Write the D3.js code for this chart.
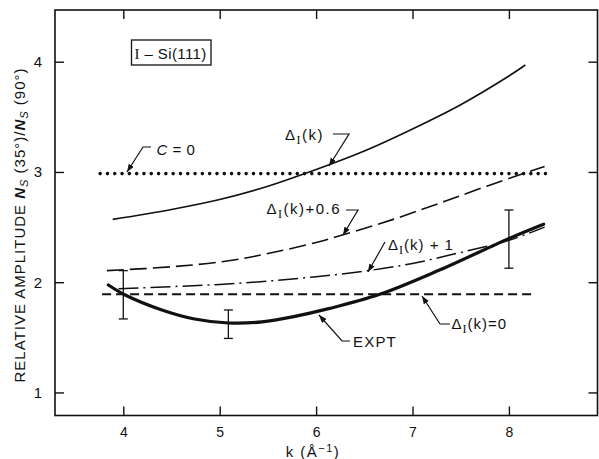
<!DOCTYPE html>
<html>
<head>
<meta charset="utf-8">
<script src="https://cdn.jsdelivr.net/npm/d3@7"></script>
<style>
  html, body { margin: 0; padding: 0; background: #fff; }
  svg { display: block; }
  text { font-family: "Liberation Sans", Arial, sans-serif; fill: #111; }
</style>
</head>
<body>
<svg id="chart" width="599" height="459"></svg>
<script>
// k in inverse angstroms, amplitude ratio Ns(35°)/Ns(90°)
const kTicks = [4, 5, 6, 7, 8];
const ampTicks = [1, 2, 3, 4];

// theory curve Δ_I(k)
const deltaK = [3.89, 4.5, 5.0, 5.5, 5.9, 6.5, 7.0, 7.5, 8.0, 8.17];
const deltaV = [2.57, 2.66, 2.75, 2.87, 2.99, 3.19, 3.39, 3.61, 3.87, 3.97];

// Δ_I(k)+0.6
const plus06K = [3.83, 4.5, 5.06, 5.5, 6.0, 6.28, 6.8, 7.29, 7.8, 8.37];
const plus06V = [2.105, 2.14, 2.19, 2.26, 2.36, 2.43, 2.57, 2.72, 2.88, 3.05];

// Δ_I(k)+1
const plus1K = [3.95, 4.5, 5.0, 5.5, 6.0, 6.5, 7.0, 7.5, 8.0, 8.37];
const plus1V = [1.94, 1.96, 1.98, 2.01, 2.05, 2.10, 2.17, 2.27, 2.38, 2.50];

// Δ_I(k)=0 (flat)
const zeroK = [3.78, 8.27];
const zeroV = [1.89, 1.89];

// c = 0 (flat, dotted)
const cZeroK = [3.76, 8.43];
const cZeroV = [2.985, 2.985];

// experiment
const exptK = [3.845, 4.02, 4.40, 4.74, 5.09, 5.44, 5.78, 6.13, 6.66, 7.28, 8.01, 8.36];
const exptV = [1.975, 1.884, 1.748, 1.666, 1.630, 1.640, 1.690, 1.760, 1.89, 2.11, 2.40, 2.526];

// error bars on the experiment
const errK = [4.0, 5.09, 8.0];
const errLow = [1.667, 1.49, 2.127];
const errHigh = [2.105, 1.748, 2.655];

const svg = d3.select("#chart");
const frameL = 55, frameR = 597.5, frameT = 10, frameB = 415.5;

const x = d3.scaleLinear().domain([3.2915, 8.919]).range([frameL, frameR]);
const y = d3.scaleLinear().domain([0.791, 4.469]).range([frameB, frameT]);

// arrowhead for leader lines
svg.append("defs").append("marker")
  .attr("id", "arrow")
  .attr("markerUnits", "userSpaceOnUse")
  .attr("markerWidth", 9).attr("markerHeight", 7)
  .attr("refX", 8).attr("refY", 3)
  .attr("orient", "auto")
  .append("path").attr("d", "M0,0 L8,3 L0,6 Z").attr("fill", "#111");

// frame with inward ticks on all sides
const tickLen = 9;
svg.append("g").attr("transform", `translate(0,${frameB})`)
  .call(d3.axisBottom(x).tickValues(kTicks).tickSizeInner(-tickLen).tickSizeOuter(0).tickPadding(12).tickFormat(d3.format("d")))
  .call(g => g.select(".domain").remove())
  .call(g => g.selectAll(".tick text").attr("font-size", 14));
svg.append("g").attr("transform", `translate(0,${frameT})`)
  .call(d3.axisTop(x).tickValues(kTicks).tickSizeInner(-tickLen).tickSizeOuter(0).tickFormat(""))
  .call(g => g.select(".domain").remove());
svg.append("g").attr("transform", `translate(${frameL},0)`)
  .call(d3.axisLeft(y).tickValues(ampTicks).tickSizeInner(-tickLen).tickSizeOuter(0).tickPadding(13).tickFormat(d3.format("d")))
  .call(g => g.select(".domain").remove())
  .call(g => g.selectAll(".tick text").attr("font-size", 15));
svg.append("g").attr("transform", `translate(${frameR},0)`)
  .call(d3.axisRight(y).tickValues(ampTicks).tickSizeInner(-tickLen).tickSizeOuter(0).tickFormat(""))
  .call(g => g.select(".domain").remove());

svg.selectAll(".tick line").attr("stroke", "#111").attr("stroke-width", 1.4);
svg.selectAll(".tick text").attr("fill", "#111")
  .attr("font-family", "Liberation Sans, Arial, sans-serif");

svg.append("rect")
  .attr("x", frameL).attr("y", frameT)
  .attr("width", frameR - frameL).attr("height", frameB - frameT)
  .attr("fill", "none").attr("stroke", "#111").attr("stroke-width", 1.6);

// curves
const line = d3.line().x(d => x(d[0])).y(d => y(d[1])).curve(d3.curveCatmullRom.alpha(0.5));
const zip = (a, b) => a.map((v, i) => [v, b[i]]);

function drawCurve(ks, vs, width, dash, cap) {
  svg.append("path")
    .datum(zip(ks, vs))
    .attr("d", line)
    .attr("fill", "none")
    .attr("stroke", "#111")
    .attr("stroke-width", width)
    .attr("stroke-dasharray", dash)
    .attr("stroke-linecap", cap || "butt");
}

drawCurve(cZeroK, cZeroV, 3.6, "0,7.3", "round");
drawCurve(deltaK, deltaV, 1.6, null);
drawCurve(plus06K, plus06V, 1.6, "17,6");
drawCurve(plus1K, plus1V, 1.5, "20,5,2,5");
drawCurve(zeroK, zeroV, 2, "9,5");
drawCurve(exptK, exptV, 3.2, null, "round");

// error bars
const capW = 4.5;
errK.forEach((k, i) => {
  const cx = x(k), y0 = y(errLow[i]), y1 = y(errHigh[i]);
  const g = svg.append("g").attr("stroke", "#111").attr("stroke-width", 1.3);
  g.append("line").attr("x1", cx).attr("x2", cx).attr("y1", y0).attr("y2", y1);
  g.append("line").attr("x1", cx - capW).attr("x2", cx + capW).attr("y1", y0).attr("y2", y0);
  g.append("line").attr("x1", cx - capW).attr("x2", cx + capW).attr("y1", y1).attr("y2", y1);
});

// leader lines from labels to curves
function leader(pts) {
  svg.append("path")
    .attr("d", d3.line()(pts))
    .attr("fill", "none").attr("stroke", "#111").attr("stroke-width", 1.2)
    .attr("marker-end", "url(#arrow)");
}
leader([[151, 147], [143, 147], [127, 172]]);
leader([[333, 134], [349, 134], [329, 166]]);
leader([[346, 210], [358, 210], [343, 235]]);
leader([[385, 242], [368, 272]]);
leader([[450, 324], [440, 324], [422, 296]]);
leader([[350, 341], [342, 341], [319, 315]]);

// Δ_I(...) labels with a serif subscript I
function deltaLabel(px, py, tail, spacing) {
  const t = svg.append("text").attr("x", px).attr("y", py)
    .attr("font-size", 15).attr("letter-spacing", spacing);
  t.append("tspan").text("Δ");
  t.append("tspan").attr("dy", 4).attr("font-size", 12)
    .attr("font-family", "Liberation Serif, serif").text("I");
  t.append("tspan").attr("dy", -4).text(tail);
}
deltaLabel(285, 140, "(k)", 1.5);
deltaLabel(266.5, 214, "(k)+0.6", 1.5);
deltaLabel(388, 250, "(k) + 1", 1);
deltaLabel(451.5, 328.5, "(k)=0", 1);

const cLab = svg.append("text").attr("x", 156.5).attr("y", 155)
  .attr("font-size", 15).attr("letter-spacing", 0.5);
cLab.append("tspan").attr("font-style", "italic").text("C");
cLab.append("tspan").text(" = 0");

svg.append("text").attr("x", 353).attr("y", 347)
  .attr("font-size", 15).attr("letter-spacing", 1.2).text("EXPT");

// sample label box
svg.append("rect").attr("x", 131.5).attr("y", 40).attr("width", 79.5).attr("height", 25)
  .attr("fill", "none").attr("stroke", "#111").attr("stroke-width", 1.3);
const box = svg.append("text").attr("x", 134.5).attr("y", 59)
  .attr("font-size", 15).attr("letter-spacing", 0.4);
box.append("tspan").attr("font-family", "Liberation Serif, serif").text("I");
box.append("tspan").text(" – Si(111)");

// axis titles
const xt = svg.append("text").attr("x", 313).attr("y", 457)
  .attr("text-anchor", "middle").attr("font-size", 15).attr("letter-spacing", 1.5);
xt.append("tspan").text("k (Å");
xt.append("tspan").attr("dy", -5).attr("font-size", 11).text("−1");
xt.append("tspan").attr("dy", 5).text(")");

const yt = svg.append("text")
  .attr("transform", "translate(25,225) rotate(-90)")
  .attr("text-anchor", "middle").attr("font-size", 15).attr("letter-spacing", 1);
yt.append("tspan").text("RELATIVE AMPLITUDE  ");
yt.append("tspan").attr("font-weight", "bold").attr("font-style", "italic").text("N");
yt.append("tspan").attr("dy", 3).attr("font-size", 11).attr("font-style", "italic").text("S");
yt.append("tspan").attr("dy", -3).text(" (35°)/");
yt.append("tspan").attr("font-weight", "bold").attr("font-style", "italic").text("N");
yt.append("tspan").attr("dy", 3).attr("font-size", 11).attr("font-style", "italic").text("S");
yt.append("tspan").attr("dy", -3).text(" (90°)");
</script>
</body>
</html>
